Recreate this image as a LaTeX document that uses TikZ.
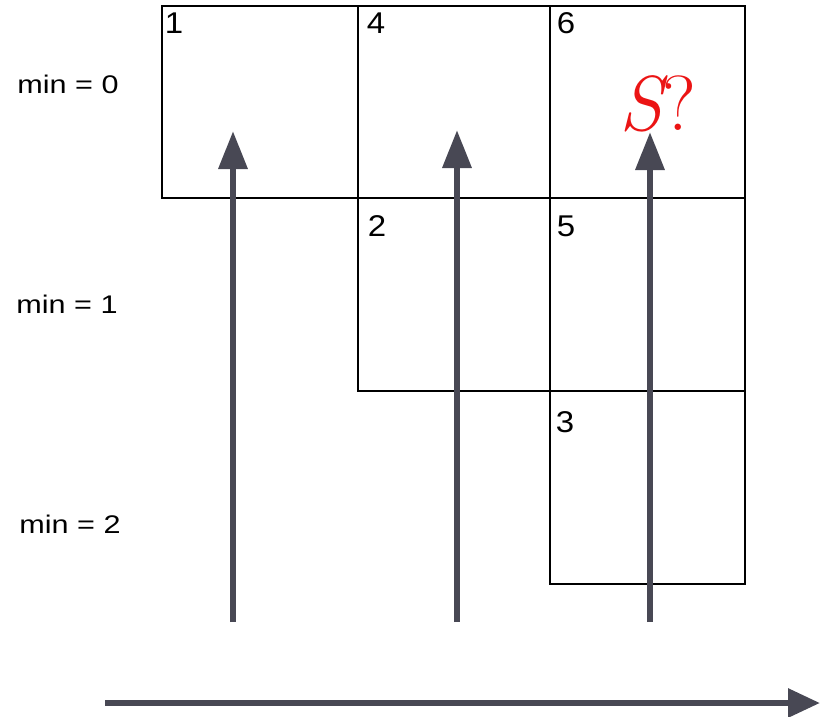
\documentclass[tikz,border=0pt]{standalone}
\usepackage{fontspec}
\setsansfont{Liberation Sans}
\usetikzlibrary{arrows.meta}
\definecolor{arrowgray}{RGB}{72,72,84}
\definecolor{sred}{RGB}{235,20,20}
\begin{document}
\begin{tikzpicture}[x=1pt,y=-1pt,
  cell/.style={draw=black,line width=1.8pt,inner sep=0pt,outer sep=0pt,anchor=north west},
  num/.style={inner sep=0pt,font=\sffamily\fontsize{30}{30}\selectfont},
  minlab/.style={inner sep=0pt,font=\sffamily\fontsize{25.5}{26}\selectfont},
  flow/.style={draw=arrowgray,line width=6.5pt,-{Triangle[length=38pt,width=28pt]}},
  axis/.style={draw=arrowgray,line width=6pt,-{Triangle[length=32pt,width=28pt]}}]
\useasboundingbox (0,0) rectangle (820,716);
% cells
\node[cell,minimum width=196pt,minimum height=192pt] (c1) at (162,6) {};
\node[cell,minimum width=192pt,minimum height=192pt] (c4) at (358,6) {};
\node[cell,minimum width=195pt,minimum height=192pt] (c6) at (550,6) {};
\node[cell,minimum width=192pt,minimum height=193pt] (c2) at (358,198) {};
\node[cell,minimum width=195pt,minimum height=193pt] (c5) at (550,198) {};
\node[cell,minimum width=195pt,minimum height=193pt] (c3) at (550,391) {};
% numbers
\node[num] (n1) at (174,23) {\scalebox{1.1}[1]{1}};
\node[num] (n4) at (376,23) {\scalebox{1.1}[1]{4}};
\node[num] (n6) at (566,23) {\scalebox{1.1}[1]{6}};
\node[num] (n2) at (377,226) {\scalebox{1.1}[1]{2}};
\node[num] (n5) at (566,226) {\scalebox{1.1}[1]{5}};
\node[num] (n3) at (565,422) {\scalebox{1.1}[1]{3}};
% row labels
\node[minlab] (m0) at (68,84) {\scalebox{1.2}[1]{min = 0}};
\node[minlab] (m1) at (67,304) {\scalebox{1.2}[1]{min = 1}};
\node[minlab] (m2) at (70,524) {\scalebox{1.2}[1]{min = 2}};
% S?
\node[inner sep=0pt,text=sred,font=\fontsize{78}{78}\selectfont] (sq) at (658,104) {\itshape S\upshape ?};
% arrows
\coordinate (a1s) at (233,622);
\coordinate (a1e) at (233,131);
\coordinate (a2s) at (457,622);
\coordinate (a2e) at (457,130);
\coordinate (a3s) at (650,622);
\coordinate (a3e) at (650,132);
\draw[flow] (a1s) -- (a1e);
\draw[flow] (a2s) -- (a2e);
\draw[flow] (a3s) -- (a3e);
\coordinate (bs) at (105,703);
\coordinate (be) at (820,703);
\draw[axis] (bs) -- (be);
\end{tikzpicture}
\end{document}
